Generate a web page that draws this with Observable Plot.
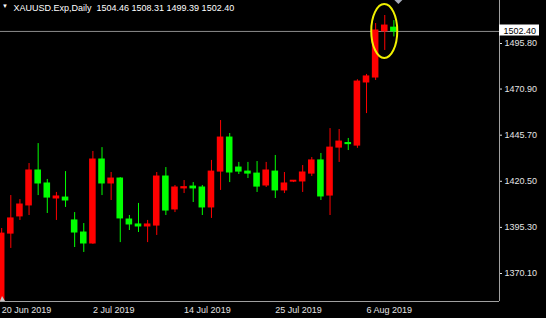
<!DOCTYPE html>
<html><head><meta charset="utf-8">
<script src="https://cdn.jsdelivr.net/npm/d3@7"></script>
<script src="https://cdn.jsdelivr.net/npm/@observablehq/plot@0.6"></script>
<style>
html,body{margin:0;padding:0;background:#000;}
#chart{position:relative;width:546px;height:318px;overflow:hidden;}
</style></head><body><div id="chart"></div>
<script>
const symbol = "XAUUSD.Exp,Daily";
const dates = ["2019-06-20","2019-06-21","2019-06-23","2019-06-24","2019-06-25","2019-06-26","2019-06-27","2019-06-28","2019-06-30","2019-07-01",
"2019-07-02","2019-07-03","2019-07-04","2019-07-05","2019-07-07","2019-07-08","2019-07-09","2019-07-10","2019-07-11","2019-07-12",
"2019-07-14","2019-07-15","2019-07-16","2019-07-17","2019-07-18","2019-07-19","2019-07-21","2019-07-22","2019-07-23","2019-07-24",
"2019-07-25","2019-07-26","2019-07-28","2019-07-29","2019-07-30","2019-07-31","2019-08-01","2019-08-02","2019-08-04","2019-08-05",
"2019-08-06","2019-08-07","2019-08-08","2019-08-09"];
const open  = [1348.0,1391.9,1401.3,1407.3,1426.4,1419.3,1411.1,1411.6,1399.1,1392.5,
1386.5,1432.4,1419.3,1422.0,1399.6,1396.9,1395.8,1396.3,1423.1,1405.1,
1416.6,1417.6,1417.1,1406.2,1425.8,1444.4,1428.0,1425.8,1424.7,1418.2,
1425.8,1415.5,1420.3,1420.4,1424.7,1431.9,1412.7,1438.9,1441.4,1440.0,
1474.5,1477.2,1502.4,1504.46];
const high  = [1394.7,1412.7,1410.5,1430.2,1441.1,1421.5,1414.4,1425.8,1403.4,1397.4,
1436.8,1438.9,1425.3,1422.5,1401.8,1408.4,1399.1,1425.3,1428.0,1418.2,
1420.9,1419.8,1418.2,1431.9,1453.7,1446.6,1430.8,1430.8,1431.3,1430.8,
1434.6,1425.3,1420.9,1429.1,1433.5,1435.7,1449.3,1448.8,1443.9,1476.0,
1478.9,1506.7,1511.1,1508.31];
const low   = [1345.0,1383.8,1399.1,1401.8,1412.7,1402.9,1399.1,1406.2,1384.3,1381.6,
1386.0,1412.7,1410.0,1387.0,1393.6,1392.5,1387.0,1390.9,1401.8,1403.4,
1413.8,1408.9,1401.8,1400.2,1415.5,1419.8,1424.2,1422.0,1414.4,1417.1,
1411.1,1413.8,1419.8,1414.4,1423.1,1410.0,1401.8,1430.8,1437.3,1438.5,
1457.5,1475.6,1492.0,1499.39];
const close = [1391.9,1400.2,1407.8,1426.4,1419.3,1411.6,1412.2,1410.0,1392.5,1386.5,
1432.4,1419.3,1422.0,1400.2,1396.9,1395.8,1396.9,1423.1,1404.5,1417.1,
1417.3,1416.6,1406.2,1425.8,1444.4,1425.3,1425.8,1424.7,1417.6,1426.4,
1415.5,1419.3,1420.8,1425.3,1431.9,1412.2,1438.9,1442.2,1440.8,1475.0,
1477.8,1502.9,1505.6,1502.40];
const yTicks = [1370.10, 1395.30, 1420.50, 1445.70, 1470.90, 1495.80];
const tickDates = ["2019-06-20","2019-07-02","2019-07-14","2019-07-25","2019-08-06"];
const highlightBar = "2019-08-08";

const bars = dates.map((d, i) => ({i, date: d, open: open[i], high: high[i], low: low[i], close: close[i], up: close[i] > open[i]}));
const last = bars[bars.length - 1];
const fmt = d3.format(".2f");
const parse = d3.utcParse("%Y-%m-%d");
const fmtDate = d3.utcFormat("%-d %b %Y");
const idx = d => dates.indexOf(d);

const W = 546, H = 318, mR = 47, mB = 17;
const xDomain = [-0.13, 54.58];
const yDomain = [1354.8, 1519.3];
const RED = "#ff0000", GREEN = "#00ff00", TEXT = "#e4e4e4", AXIS = "#a0a0a0";
const col = d => d.up ? RED : GREEN;
const priceText = fmt(last.close);

const plot = Plot.plot({
  width: W, height: H, marginTop: 0, marginLeft: 0, marginRight: mR, marginBottom: mB,
  style: {background: "#000", color: TEXT, fontFamily: "'Liberation Sans', Arial, sans-serif", fontSize: "9px"},
  x: {domain: xDomain, axis: null},
  y: {domain: yDomain, axis: "right", ticks: yTicks, tickFormat: fmt, tickSize: 2, tickPadding: 3, label: null},
  color: {type: "identity"},
  marks: [
    Plot.ruleY([last.close], {stroke: "#8c8c8c", strokeWidth: 1}),
    Plot.ruleX(bars, {x: "i", y1: "low", y2: "high", stroke: col, clip: true}),
    Plot.rect(bars, {x1: d => d.i - 0.36, x2: d => d.i + 0.36, y1: "open", y2: "close", fill: col, insetTop: -0.5, insetBottom: -0.5, clip: true}),
    Plot.ruleY([yDomain[0]], {stroke: AXIS}),
    Plot.ruleX([xDomain[1]], {stroke: AXIS}),
    Plot.text(tickDates, {x: d => idx(d), y: () => yDomain[0], text: d => fmtDate(parse(d)), textAnchor: "start", dy: 8.5, fill: TEXT}),
    Plot.text(["\u25BC"], {frameAnchor: "top-left", dx: 1.5, dy: 3, lineAnchor: "top", textAnchor: "start", fontSize: 6, fill: "#fff"}),
    Plot.text([`${symbol}\u00a0\u00a0${fmt(last.open)} ${fmt(last.high)} ${fmt(last.low)} ${fmt(last.close)}`],
      {frameAnchor: "top-left", dx: 13, dy: 4, lineAnchor: "top", textAnchor: "start", fill: "#fff"}),
    Plot.text([last.close], {y: d => d, frameAnchor: "right", dx: 4, textAnchor: "start", text: d => fmt(d), fill: "#000"})
  ]
});
document.getElementById("chart").append(plot);

let xs, ys;
try { const sx = plot.scale("x"), sy = plot.scale("y"); xs = v => sx.apply(v); ys = v => sy.apply(v); }
catch (e) { const lx = d3.scaleLinear(xDomain, [0, W - mR]), ly = d3.scaleLinear(yDomain, [H - mB, 0]); xs = lx; ys = ly; }

const svg = d3.select(plot);
// white box behind the current-price label, sized from the rendered label
const lblT = svg.selectAll("text").filter(function () { return this.textContent === priceText; }).node();
if (lblT) {
  const br = lblT.getBoundingClientRect(), sr = plot.getBoundingClientRect();
  let g = lblT; while (g.parentNode && g.parentNode !== plot) g = g.parentNode;
  const r = document.createElementNS("http://www.w3.org/2000/svg", "rect");
  const x0 = W - mR;
  r.setAttribute("x", x0);
  r.setAttribute("y", Math.round(br.top - sr.top) - 1.5);
  r.setAttribute("width", Math.round(br.right - sr.left) - x0 + 3);
  r.setAttribute("height", Math.round(br.height) + 1);
  r.setAttribute("fill", "#fff");
  plot.insertBefore(r, g);
}
// highlight ellipse
svg.append("ellipse")
  .attr("cx", xs(idx(highlightBar))).attr("cy", ys(last.close))
  .attr("rx", 13).attr("ry", 27)
  .attr("fill", "none").attr("stroke", "#f0f000").attr("stroke-width", 2);
// chart shift marker
const sxp = xs(last.i) + 5;
svg.append("polygon").attr("points", `${sxp - 5},-1 ${sxp + 5},-1 ${sxp},4`).attr("fill", "#a8aebb");
// scroll marker bottom-left
svg.append("polygon").attr("points", `0,${H - mB} 5,${H - mB} 2,${H - mB - 5}`).attr("fill", "#c8c8c8");
</script></body></html>
